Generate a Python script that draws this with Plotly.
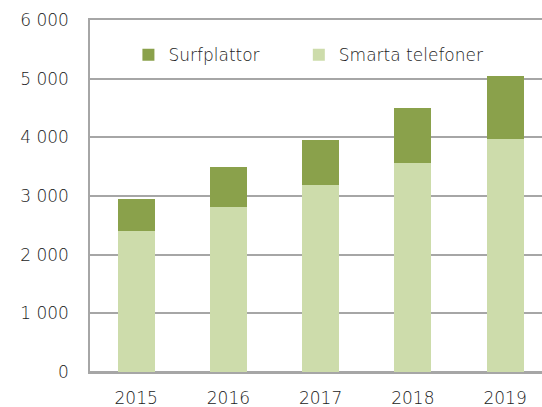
import plotly.graph_objects as go

years = ["2015", "2016", "2017", "2018", "2019"]
smarta_telefoner = [2410, 2810, 3180, 3570, 3970]
surfplattor = [540, 680, 780, 930, 1075]
y_tickvals = [0, 1000, 2000, 3000, 4000, 5000, 6000]
y_ticktext = ["0", "1 000", "2 000", "3 000", "4 000", "5 000", "6 000"]

FONT = "DejaVu Sans"
TXT = "#222222"
GRID = "#a6a6a6"

fig = go.Figure()
fig.add_trace(go.Bar(x=years, y=smarta_telefoner, name="Smarta telefoner",
                     marker=dict(color="#cddcab", line=dict(width=0)), width=0.4,
                     legend="legend2"))
fig.add_trace(go.Bar(x=years, y=surfplattor, name="Surfplattor",
                     marker=dict(color="#8aa14b", line=dict(width=0)), width=0.4,
                     legend="legend"))

leg_common = dict(orientation="h", y=0.9, xanchor="left", yanchor="middle",
                  font=dict(size=17, color=TXT, family=FONT, weight=300),
                  bgcolor="rgba(0,0,0,0)", itemwidth=30)

fig.update_layout(
    width=542, height=407,
    margin=dict(l=90, r=0, t=20, b=35),
    barmode="stack",
    plot_bgcolor="white", paper_bgcolor="white",
    font=dict(family=FONT, size=17, color=TXT, weight=300),
    showlegend=True,
    legend=dict(x=0.085, **leg_common),
    legend2=dict(x=0.462, **leg_common),
    xaxis=dict(range=[-0.5, 4.4], showgrid=False,
               showline=True, linecolor=GRID, linewidth=1.5, mirror=True,
               ticks="", ticklabelstandoff=10, zeroline=False, automargin=False,
               tickfont=dict(size=17, color=TXT)),
    yaxis=dict(range=[0, 6000], tickvals=y_tickvals, ticktext=y_ticktext,
               showgrid=True, gridcolor=GRID, gridwidth=1.5,
               showline=True, linecolor=GRID, linewidth=1.5,
               zeroline=True, zerolinecolor=GRID, zerolinewidth=1.5,
               ticks="", ticklabelstandoff=16, automargin=False,
               tickfont=dict(size=17, color=TXT)),
)
fig.write_html("out.html", config=dict(displayModeBar=False),
               post_script="document.body.style.margin='0';document.body.style.padding='0';")
